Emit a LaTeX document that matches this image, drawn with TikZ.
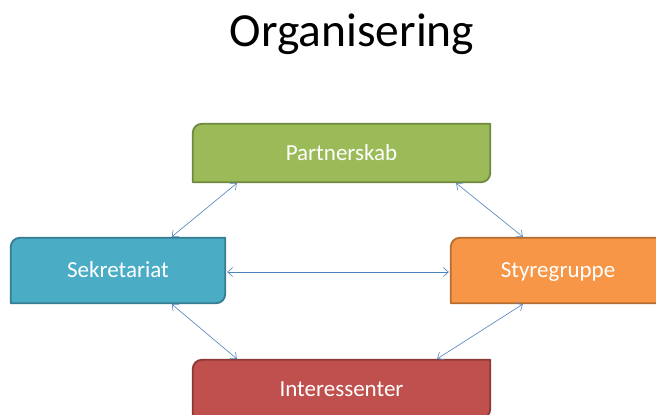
\documentclass[tikz,border=0pt]{standalone}
\usepackage{fontspec}
\setmainfont{Carlito}
\usetikzlibrary{arrows.meta,backgrounds}
\definecolor{arrowblue}{HTML}{4F81BD}
\definecolor{gfill}{HTML}{9BBB59}\definecolor{gdraw}{HTML}{71893F}
\definecolor{bfill}{HTML}{4BACC6}\definecolor{bdraw}{HTML}{357D91}
\definecolor{ofill}{HTML}{F79646}\definecolor{odraw}{HTML}{B66D31}
\definecolor{rfill}{HTML}{C0504D}\definecolor{rdraw}{HTML}{8C3836}
\newcommand\diagbox[3]{%
  \begin{pgfonlayer}{background}
  \draw[fill=#2, draw=#3, line width=1.8pt, line join=round]
    (#1.south west) -- ([yshift=-9pt]#1.north west)
    arc[start angle=180,end angle=90,radius=9pt] -- (#1.north east)
    -- ([yshift=9pt]#1.south east)
    arc[start angle=0,end angle=-90,radius=9pt] -- cycle;
  \end{pgfonlayer}}
\tikzset{
  boxnode/.style={inner sep=0pt, text=white, font=\fontsize{23}{26}\selectfont,
    text height=15pt, text depth=0pt},
  link/.style={draw=arrowblue, line width=0.6pt,
    {Straight Barb[length=5pt,width=9pt]}-{Straight Barb[length=5pt,width=9pt]}}
}
\begin{document}
\begin{tikzpicture}[x=1pt,y=1pt]
\useasboundingbox (0,0) rectangle (656,415);
\begin{pgfonlayer}{background}
\fill[white] (0,0) rectangle (656,415);
\end{pgfonlayer}
\clip (0,0) rectangle (656,415);
\node[font=\fontsize{47.5}{52}\selectfont, anchor=base] (title) at (352,368) {Organisering};
\node[boxnode, minimum width=297pt, minimum height=58pt] (P) at (341.5,262) {Partnerskab};
\node[boxnode, minimum width=214pt, minimum height=65pt] (S) at (118,144.5) {Sekretariat};
\node[boxnode, minimum width=214pt, minimum height=65pt] (G) at (558,144.5) {Styregruppe};
\node[boxnode, minimum width=297pt, minimum height=58pt] (I) at (341.5,26) {Interessenter};
\diagbox{P}{gfill}{gdraw}
\diagbox{S}{bfill}{bdraw}
\diagbox{G}{ofill}{odraw}
\diagbox{I}{rfill}{rdraw}
\coordinate (p1) at ([xshift=44pt,yshift=-1pt]P.south west);
\coordinate (p2) at ([xshift=-34pt,yshift=-1pt]P.south east);
\coordinate (s1) at ([xshift=161pt,yshift=1pt]S.north west);
\coordinate (s2) at ([xshift=161pt,yshift=-1pt]S.south west);
\coordinate (g1) at ([xshift=72pt,yshift=1pt]G.north west);
\coordinate (g2) at ([xshift=72pt,yshift=-1pt]G.south west);
\coordinate (i1) at ([xshift=44pt,yshift=1pt]I.north west);
\coordinate (i2) at ([xshift=-53pt,yshift=1pt]I.north east);
\draw[link] (p1) -- (s1);
\draw[link] (p2) -- (g1);
\draw[link] ([xshift=2pt,yshift=-1.5pt]S.east) -- ([xshift=-2pt,yshift=-1.5pt]G.west);
\draw[link] (s2) -- (i1);
\draw[link] (g2) -- (i2);
\end{tikzpicture}
\end{document}
